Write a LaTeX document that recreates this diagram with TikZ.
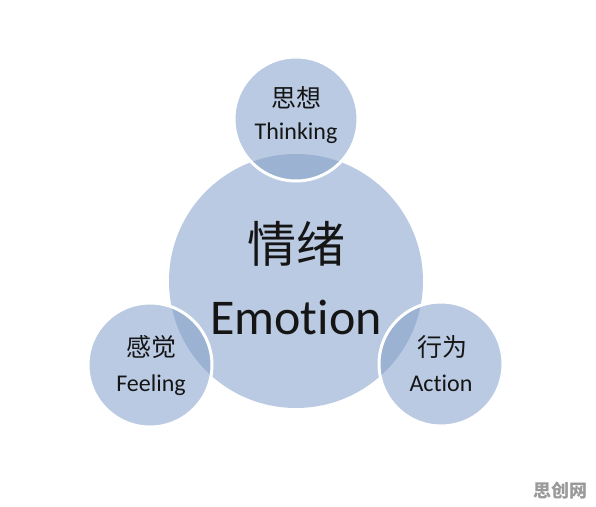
\documentclass[tikz,border=0pt]{standalone}
\usepackage{fontspec}
\setmainfont{Carlito}[Ligatures=NoCommon]
\newfontfamily\cjk{Noto Sans CJK SC}
\definecolor{cfill}{HTML}{B9CAE2}
\definecolor{cdark}{HTML}{9BB2D3}
\definecolor{ctext}{HTML}{151515}
\definecolor{cwm}{HTML}{9A9A9A}
\tikzset{
  bigc/.style={circle, fill=cfill, minimum size=254pt, inner sep=0pt},
  smallc/.style={circle, minimum size=124pt, inner sep=0pt},
  rim/.style={draw=white, line width=3pt},
  zh/.style={text=ctext, inner sep=0pt, font=\cjk\fontsize{#1}{#1}\selectfont},
  en/.style={text=ctext, inner sep=0pt, font=\fontsize{#1}{#1}\selectfont}
}
\begin{document}
\begin{tikzpicture}[x=1pt,y=-1pt]
\useasboundingbox (0,0) rectangle (596,506);
\fill[white] (0,0) rectangle (596,506);
% big circle
\node[bigc] (emo) at (296,281) {};
% small circles
\node[smallc, fill=cfill] (thi) at (296,119) {};
\node[smallc, fill=cfill] (fee) at (150,365) {};
\node[smallc, fill=cfill] (act) at (441,364) {};
% overlaps
\begin{scope}
  \clip (emo.center) circle (127pt);
  \fill[cdark] (thi.center) circle (62pt);
  \fill[cdark] (fee.center) circle (62pt);
  \fill[cdark] (act.center) circle (62pt);
\end{scope}
% white rims
\draw[rim] (thi.center) circle (62pt);
\draw[rim] (fee.center) circle (62pt);
\draw[rim] (act.center) circle (62pt);
% texts
\node[zh=25] (thizh) at (296,98) {思想};
\node[en=24, anchor=base] (thien) at (296,139) {Thinking};
\node[zh=49] (emozh) at (296,244) {情绪};
\node[en=50, anchor=base] (emoen) at (296,334) {Emotion};
\node[zh=25] (feezh) at (151,347) {感觉};
\node[en=24, anchor=base] (feeen) at (151,391) {Feeling};
\node[zh=25] (actzh) at (442,347) {行为};
\node[en=24, anchor=base] (acten) at (441,391) {Action};
% watermark
\node[text=cwm, inner sep=0pt, font=\cjk\bfseries\fontsize{18}{18}\selectfont] (wm) at (560,491) {思创网};
\end{tikzpicture}
\end{document}
